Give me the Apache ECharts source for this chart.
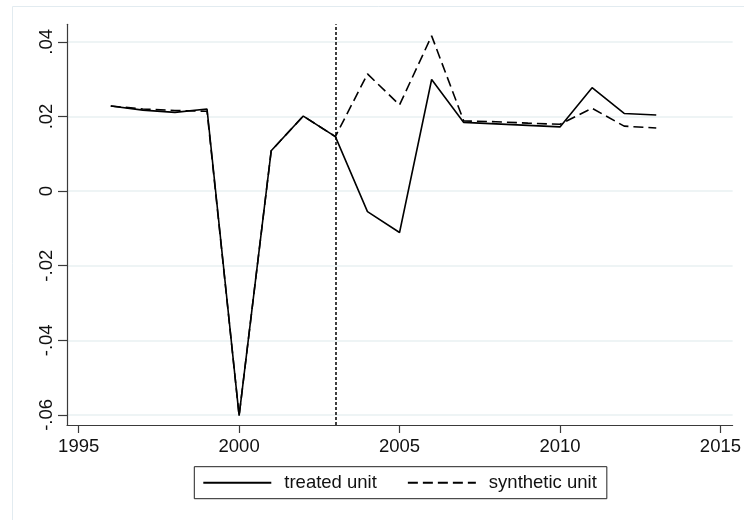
<!DOCTYPE html>
<html><head><meta charset="utf-8">
<script src="https://cdn.jsdelivr.net/npm/echarts@6/dist/echarts.min.js"></script>
<style>html,body{margin:0;padding:0;background:#fff}#c{width:744px;height:520px}</style>
</head><body><div id="c"></div>
<script>
const years = [1996,1997,1998,1999,2000,2001,2002,2003,2004,2005,2006,2007,2008,2009,2010,2011,2012,2013];
const treated = [0.0228,0.0217,0.0211,0.0220,-0.0602,0.0108,0.0201,0.0146,-0.0055,-0.0111,0.0299,0.0184,0.0180,0.0176,0.0172,0.0277,0.0208,0.0204];
const synthetic = [0.0228,0.0220,0.0216,0.0214,-0.0602,0.0108,0.0201,0.0146,0.0314,0.0231,0.0416,0.0188,0.0186,0.0182,0.0179,0.0222,0.0174,0.0169];
const xTicks = [1995,2000,2005,2010,2015];
const yTicks = [-0.06,-0.04,-0.02,0,0.02,0.04];
const treatmentYear = 2003;
const xRange = [1994.636, 2015.38];
const yRange = [-0.0627, 0.0447];
const seriesNames = ['treated unit','synthetic unit'];

const FONT = "'Liberation Sans', Arial, sans-serif";
const AXIS = '#3a3a3a';
const GRID = '#e8f0f2';
const fmtY = v => v === 0 ? '0' : (v < 0 ? '-' : '') + Math.abs(v).toFixed(2).replace(/^0/, '');

const chart = echarts.init(document.getElementById('c'), null, {renderer:'canvas'});
chart.setOption({
  animation: false,
  backgroundColor: '#fff',
  graphic: [{type:'rect', shape:{x:12.5, y:6.5, width:900, height:700}, style:{fill:'none', stroke:'#e2ebf0', lineWidth:1}, z:-1}],
  grid: {left:67, right:9.3, top:24.3, bottom:95, containLabel:false},
  xAxis: {
    type:'value', min:xRange[0], max:xRange[1],
    axisLine:{show:true, onZero:false, lineStyle:{color:AXIS, width:1.2}},
    axisTick:{show:true, length:8, customValues:xTicks, lineStyle:{color:AXIS, width:1.2}},
    axisLabel:{customValues:xTicks, margin:12, fontFamily:FONT, fontSize:18.5, color:'#111', formatter:v => String(Math.round(v))},
    splitLine:{show:false}
  },
  yAxis: {
    type:'value', min:yRange[0], max:yRange[1],
    axisLine:{show:true, onZero:false, lineStyle:{color:AXIS, width:1.2}},
    axisTick:{show:true, length:9, customValues:yTicks, lineStyle:{color:AXIS, width:1.2}},
    axisLabel:{customValues:yTicks, rotate:90, margin:11, fontFamily:FONT, fontSize:18.5, color:'#111', formatter:fmtY},
    splitLine:{show:true, lineStyle:{color:GRID, width:1.5}}
  },
  legend: {
    left:194.3, top:466.7, orient:'horizontal',
    data: seriesNames,
    borderColor:'#222', borderWidth:1, borderRadius:0,
    padding:[5,10,5,8], itemGap:30, itemWidth:68, itemHeight:14,
    itemStyle:{opacity:0},
    textStyle:{fontFamily:FONT, fontSize:18.5, color:'#111', lineHeight:22, padding:[0,0,0,8]}
  },
  series: [
    {name:seriesNames[0], type:'line', data:years.map((y,i)=>[y,treated[i]]), symbol:'none', showSymbol:false,
     lineStyle:{color:'#000', width:1.6, type:'solid'}, itemStyle:{color:'#000'}, z:3,
     markLine:{silent:true, symbol:'none', label:{show:false}, data:[{xAxis:treatmentYear}],
       lineStyle:{color:'#000', width:1.5, type:[3,2]}}},
    {name:seriesNames[1], type:'line', data:years.map((y,i)=>[y,synthetic[i]]), symbol:'none', showSymbol:false,
     lineStyle:{color:'#000', width:1.6, type:[10,5]}, itemStyle:{color:'#000'}, z:4}
  ]
});
</script></body></html>
